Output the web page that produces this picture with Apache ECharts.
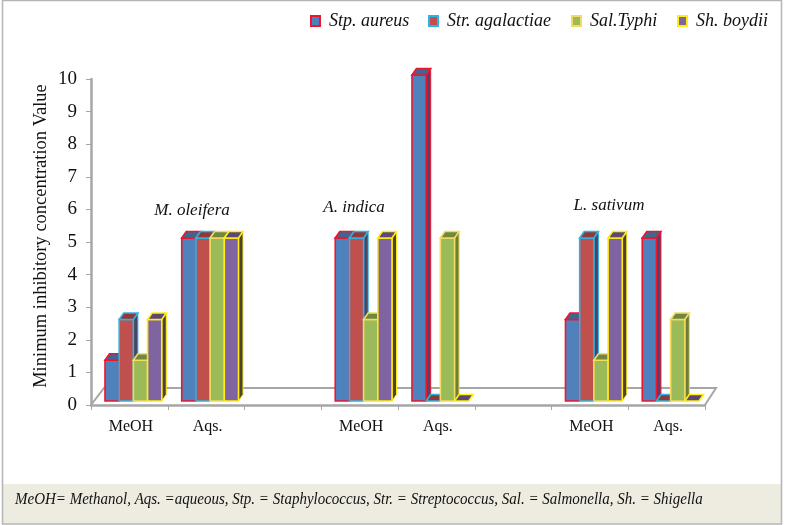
<!DOCTYPE html>
<html>
<head>
<meta charset="utf-8">
<title>MIC chart</title>
<style>
  html, body { margin: 0; padding: 0; background: #fff; }
  #main { width: 787px; height: 525px; }
</style>
<script src="https://cdn.jsdelivr.net/npm/echarts@6/dist/echarts.min.js"></script>
</head>
<body>
<div id="main"></div>
<script>
const categories = ['MeOH', 'Aqs.', '', 'MeOH', 'Aqs.', '', 'MeOH', 'Aqs.']
const stpAureus = [1.25, 5, null, 5, 10, null, 2.5, 5]
const strAgalactiae = [2.5, 5, null, 5, 0, null, 5, 0]
const salTyphi = [1.25, 5, null, 2.5, 5, null, 1.25, 2.5]
const shBoydii = [2.5, 5, null, 5, 0, null, 5, 0]
const yTicks = [0, 1, 2, 3, 4, 5, 6, 7, 8, 9, 10]
const plantNames = ['M. oleifera', 'A. indica', 'L. sativum']
const footnote = 'MeOH= Methanol, Aqs. =aqueous, Stp. = Staphylococcus, Str. = Streptococcus, Sal. = Salmonella, Sh. = Shigella'

const FONT = '"Liberation Serif", "Times New Roman", serif'
const GRAY = '#a6a6a6'

const styles = [
  { name: 'Stp. aureus', data: stpAureus, front: '#4f81bd', top: '#3f6690', side: '#5a4068', edge: '#f0142c', legendX: 310 },
  { name: 'Str. agalactiae', data: strAgalactiae, front: '#c0504d', top: '#8c3a3c', side: '#4b4560', edge: '#2fb2e4', legendX: 428 },
  { name: 'Sal.Typhi', data: salTyphi, front: '#9bbb59', top: '#6f8740', side: '#6e7d38', edge: '#f2dc60', legendX: 571 },
  { name: 'Sh. boydii', data: shBoydii, front: '#8064a2', top: '#5c4778', side: '#4d4238', edge: '#ffee10', legendX: 677 }
]

const labelSpots = [[192, 211], [354, 208], [609, 206]]

// fake 3d column: front face, top and right side
const barItem = seriesIndex => (params, api) => {
  const val = api.value(1)
  if (val === null || isNaN(val)) return
  const st = styles[seriesIndex]
  const band = api.size([1, 0])[0]
  const w = band * 0.185
  const base = api.coord([api.value(0), 0])
  const h = api.size([0, val])[1]
  const x = base[0] + 4 + (seriesIndex - 2) * w
  const y0 = base[1] - 4
  const y1 = y0 - h
  const dx = 4.5
  const dy = 6.5
  const line = { stroke: st.edge, lineWidth: 1.6, lineJoin: 'miter' }
  const children = []
  if (h > 0) {
    children.push({
      type: 'polygon',
      shape: { points: [[x + w, y0], [x + w + dx, y0 - dy], [x + w + dx, y1 - dy], [x + w, y1]] },
      style: { fill: st.side, stroke: st.edge, lineWidth: 1 }
    })
    children.push({
      type: 'rect',
      shape: { x: x, y: y1, width: w, height: h },
      style: { fill: st.front, ...line }
    })
  }
  children.push({
    type: 'polygon',
    shape: { points: [[x, y1], [x + dx, y1 - dy], [x + w + dx, y1 - dy], [x + w, y1]] },
    style: { fill: st.top, ...line }
  })
  return { type: 'group', children: children }
}

const floorItem = (params) => {
  const g = params.coordSys
  const yb = g.y + g.height
  return {
    type: 'polyline',
    shape: { points: [[g.x, yb], [g.x + 13, yb - 17], [g.x + g.width + 11, yb - 17], [g.x + g.width, yb]] },
    style: { fill: null, stroke: GRAY, lineWidth: 2 }
  }
}

const chart = echarts.init(document.getElementById('main'))

chart.setOption({
  animation: false,
  backgroundColor: '#fff',
  textStyle: { fontFamily: FONT, color: '#111' },
  grid: { left: 91, top: 79, width: 614, height: 326 },
  legend: styles.map(s => ({
    left: s.legendX,
    top: 12,
    padding: 0,
    data: [s.name],
    icon: 'rect',
    itemWidth: 9,
    itemHeight: 10,
    textStyle: { fontFamily: FONT, fontStyle: 'italic', fontSize: 18, color: '#111', padding: [0, 0, 0, 4] }
  })),
  xAxis: {
    type: 'category',
    data: categories,
    axisLine: { lineStyle: { color: GRAY, width: 2.5 } },
    axisTick: { show: true, length: 5, lineStyle: { color: GRAY } },
    axisLabel: { interval: 0, fontSize: 16, margin: 14, color: '#111', fontFamily: FONT, padding: [0, 0, 0, 3] }
  },
  yAxis: {
    type: 'value',
    min: 0,
    max: 10,
    interval: 1,
    name: 'Minimum inhibitory concentration Value',
    nameLocation: 'middle',
    nameGap: 40,
    nameMoveOverlap: false,
    nameTextStyle: { fontFamily: FONT, fontSize: 18.5, color: '#111', padding: [0, 0, 0, 12] },
    splitLine: { show: false },
    axisLine: { show: true, lineStyle: { color: GRAY, width: 2.5 } },
    axisTick: { show: true, length: 5, lineStyle: { color: GRAY } },
    axisLabel: {
      fontSize: 19,
      margin: 14,
      color: '#111',
      fontFamily: FONT,
      formatter: v => (yTicks.includes(v) ? String(v) : '')
    }
  },
  graphic: [
    {
      type: 'rect',
      z: -10,
      shape: { x: 3, y: 484, width: 778, height: 40 },
      style: { fill: '#eeece1' }
    },
    {
      type: 'rect',
      z: 10,
      shape: { x: 2.5, y: 0.5, width: 779, height: 523.5 },
      style: { fill: null, stroke: '#b5b5b5', lineWidth: 1.5 }
    },
    {
      type: 'text',
      x: 15,
      y: 500,
      scaleX: 0.882,
      style: { text: footnote, font: 'italic 17px ' + FONT, fill: '#111', verticalAlign: 'middle' }
    }
  ].concat(plantNames.map((n, i) => ({
    type: 'text',
    x: labelSpots[i][0],
    y: labelSpots[i][1],
    style: { text: n, font: 'italic 17px ' + FONT, fill: '#111', align: 'center', verticalAlign: 'middle' }
  }))),
  series: [
    {
      type: 'custom',
      name: 'floor',
      renderItem: floorItem,
      coordinateSystem: 'cartesian2d',
      silent: true,
      z: 1,
      data: [[0, 0]]
    }
  ].concat(styles.map((s, i) => ({
    type: 'custom',
    name: s.name,
    renderItem: barItem(i),
    encode: { x: 0, y: 1 },
    itemStyle: { color: s.front, borderColor: s.edge, borderWidth: 1 },
    z: 2 + i,
    data: s.data.map((v, k) => [k, v])
  })))
})
</script>
</body>
</html>
